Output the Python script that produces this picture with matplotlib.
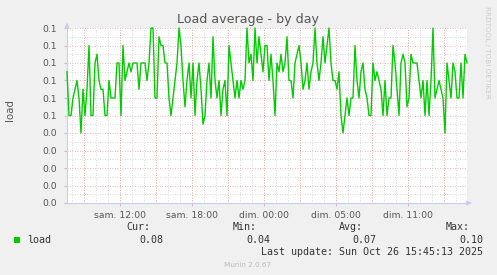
import matplotlib
matplotlib.use('Agg')
import matplotlib.pyplot as plt
import numpy as np

# load average samples, one every 10 minutes
load = [
    0.075, 0.05, 0.05, 0.06, 0.065, 0.07, 0.06, 0.04, 0.065, 0.05,
    0.065, 0.09, 0.05, 0.05, 0.08, 0.085, 0.07, 0.065, 0.065, 0.05,
    0.05, 0.07, 0.06, 0.06, 0.06, 0.08, 0.08, 0.05, 0.09, 0.07,
    0.075, 0.08, 0.075, 0.08, 0.08, 0.08, 0.065, 0.08, 0.08, 0.08,
    0.07, 0.08, 0.10, 0.10, 0.06, 0.06, 0.095, 0.09, 0.09, 0.08,
    0.08, 0.06, 0.05, 0.06, 0.07, 0.08, 0.10, 0.09, 0.07, 0.055,
    0.07, 0.08, 0.06, 0.08, 0.05, 0.07, 0.08, 0.065, 0.045, 0.05,
    0.07, 0.08, 0.06, 0.095, 0.07, 0.06, 0.07, 0.05, 0.065, 0.07,
    0.05, 0.09, 0.08, 0.07, 0.06, 0.07, 0.06, 0.07, 0.065, 0.07,
    0.10, 0.08, 0.085, 0.07, 0.10, 0.08, 0.095, 0.085, 0.075, 0.09,
    0.09, 0.07, 0.085, 0.07, 0.05, 0.08, 0.075, 0.085, 0.075, 0.08,
    0.095, 0.07, 0.07, 0.06, 0.08, 0.085, 0.09, 0.08, 0.065, 0.07,
    0.08, 0.065, 0.075, 0.08, 0.10, 0.08, 0.07, 0.08, 0.095, 0.08,
    0.09, 0.10, 0.08, 0.07, 0.07, 0.065, 0.075, 0.05, 0.04, 0.05,
    0.06, 0.05, 0.06, 0.06, 0.09, 0.07, 0.06, 0.075, 0.08, 0.065,
    0.06, 0.05, 0.05, 0.08, 0.07, 0.075, 0.07, 0.065, 0.05, 0.07,
    0.05, 0.06, 0.06, 0.09, 0.08, 0.065, 0.05, 0.08, 0.085, 0.08,
    0.055, 0.06, 0.085, 0.08, 0.08, 0.08, 0.07, 0.06, 0.07, 0.05,
    0.07, 0.05, 0.07, 0.10, 0.06, 0.065, 0.07, 0.065, 0.06, 0.04,
    0.08, 0.07, 0.06, 0.08, 0.075, 0.06, 0.06, 0.08, 0.06, 0.085,
    0.08,
]
hours = np.arange(len(load)) / 6.0

# x labels: hours from the left edge of the graph
first_hour = 0.44
tick_hours = [first_hour + 4, first_hour + 10, first_hour + 16, first_hour + 22, first_hour + 28]
tick_labels = ['sam. 12:00', 'sam. 18:00', 'dim. 00:00', 'dim. 05:00', 'dim. 11:00']

yticks = [0.0, 0.01, 0.02, 0.03, 0.04, 0.05, 0.06, 0.07, 0.08, 0.09, 0.10]
ytick_labels = ['0.0', '0.0', '0.0', '0.0', '0.0', '0.1', '0.1', '0.1', '0.1', '0.1', '0.1']

stats_names = ['Cur:', 'Min:', 'Avg:', 'Max:']
stats_values = ['0.08', '0.04', '0.07', '0.10']

W, H = 497, 275
fig = plt.figure(figsize=(W / 100, H / 100), dpi=100, facecolor='#f0f0f0')
ax = fig.add_axes([67 / W, (H - 203) / H, 400 / W, 175 / H], facecolor='white')

span = hours[-1]
ax.set_xlim(0, span)
ax.set_ylim(0, 0.1)

# grid
for h in np.arange(first_hour, span, 1.0):
    ax.axvline(h, color='#cccccc', lw=0.6, ls=(0, (1, 2)), zorder=1)
for h in np.arange(first_hour + 1, span, 3.0):
    ax.axvline(h, color='#eea0a0', lw=0.6, ls=(0, (1, 2)), zorder=1)
for v in np.arange(0.005, 0.1, 0.01):
    ax.axhline(v, color='#cccccc', lw=0.6, ls=(0, (1, 2)), zorder=1)
for v in yticks:
    ax.axhline(v, color='#eea0a0', lw=0.6, ls=(0, (1, 2)), zorder=1)

ax.plot(hours, load, color='#00cc00', lw=1.0, zorder=3, clip_on=False)

ax.set_xticks(tick_hours)
ax.set_xticklabels(tick_labels)
ax.set_yticks(yticks)
ax.set_yticklabels(ytick_labels)
ax.tick_params(axis='both', length=2, color='#c0c0e0', labelcolor='#555555', labelsize=6.7)
ax.tick_params(axis='y', pad=5)
ax.tick_params(axis='x', pad=4)

for s in ['top', 'right']:
    ax.spines[s].set_visible(False)
for s in ['left', 'bottom']:
    ax.spines[s].set_color('#c8ccf0')
    ax.spines[s].set_linewidth(0.8)

# axis arrows
ax.annotate('', xy=(0, 1.045), xytext=(0, 1.0), xycoords='axes fraction',
            arrowprops=dict(arrowstyle='-|>', color='#c8ccf0', lw=0.8, mutation_scale=7))
ax.annotate('', xy=(1.012, 0), xytext=(1.0, 0), xycoords='axes fraction',
            arrowprops=dict(arrowstyle='-|>', color='#c8ccf0', lw=0.8, mutation_scale=7))

fig.text(248 / W, 1 - 19 / H, 'Load average - by day', ha='center', va='center',
         fontsize=9.1, color='#555555')
fig.text(10 / W, 1 - 110 / H, 'load', rotation=90, ha='center', va='center',
         fontsize=7.4, color='#555555')
fig.text(487 / W, 1 - 52 / H, 'RRDTOOL / TOBI OETIKER', rotation=270, ha='center', va='center',
         fontsize=5.2, color='#cccccc')

# legend block
mono = 'DejaVu Sans Mono'
fig.patches.append(plt.Rectangle((14 / W, 1 - 243 / H), 6 / W, 6 / H, transform=fig.transFigure,
                                 facecolor='#00cc00', edgecolor='none'))
fig.text(27 / W, 1 - 240 / H, 'load', family=mono, fontsize=7.2, color='#333333', va='center')
name_right = [150, 257, 363, 470]
value_right = [163, 270, 376, 483]
for name, val, nx, vx in zip(stats_names, stats_values, name_right, value_right):
    fig.text(nx / W, 1 - 227 / H, name, family=mono, fontsize=7.2, color='#333333',
             ha='right', va='center')
    fig.text(vx / W, 1 - 240 / H, val, family=mono, fontsize=7.2, color='#333333',
             ha='right', va='center')
fig.text(483 / W, 1 - 252 / H, 'Last update: Sun Oct 26 15:45:13 2025', family=mono,
         fontsize=7.2, color='#333333', ha='right', va='center')
fig.text(248 / W, 1 - 265 / H, 'Munin 2.0.67', ha='center', va='center',
         fontsize=5.2, color='#bbbbbb')

fig.savefig('out.png', dpi=100, facecolor=fig.get_facecolor())
